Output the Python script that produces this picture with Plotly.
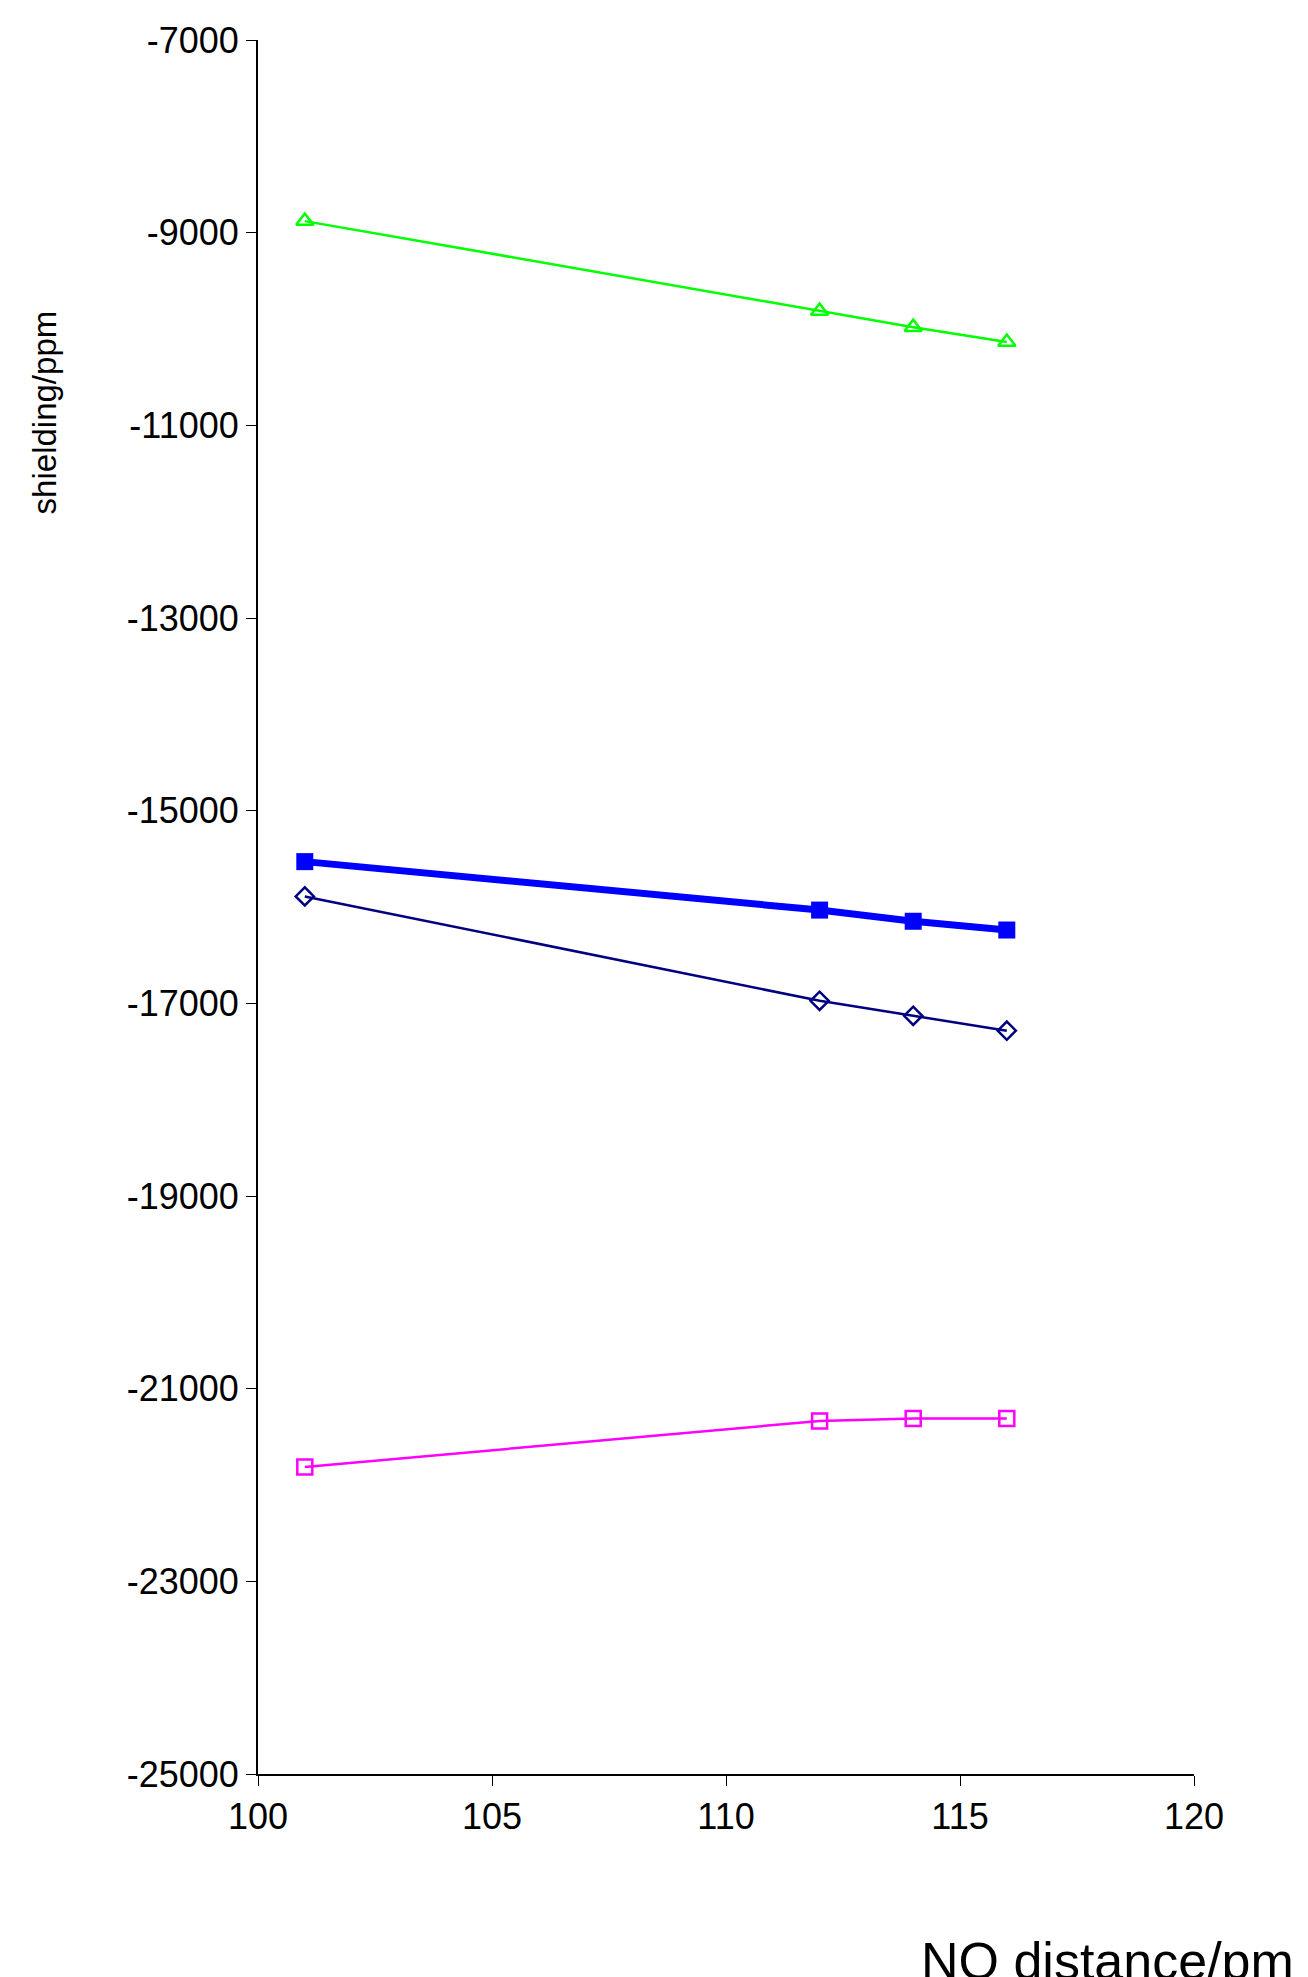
import plotly.graph_objects as go

x = [101, 112, 114, 116]
green = [-8880, -9813, -9981, -10135]
blue = [-15529, -16032, -16148, -16239]
navy = [-15890, -16974, -17129, -17284]
magenta = [-21813, -21335, -21310, -21310]
yticks = list(range(-25000, -6999, 2000))
yticklabels = [str(v) for v in yticks]

fig = go.Figure()
fig.add_trace(go.Scatter(x=x, y=green, mode="lines+markers", line=dict(color="#00ff00", width=2.5),
                         marker=dict(symbol="triangle-up-open", size=15, color="#00ff00", line=dict(width=2.5))))
fig.add_trace(go.Scatter(x=x, y=blue, mode="lines+markers", line=dict(color="#0000ff", width=7),
                         marker=dict(symbol="square", size=17, color="#0000ff")))
fig.add_trace(go.Scatter(x=x, y=navy, mode="lines+markers", line=dict(color="#000080", width=2.5),
                         marker=dict(symbol="diamond-open", size=14, color="#000080", line=dict(width=2.5))))
fig.add_trace(go.Scatter(x=x, y=magenta, mode="lines+markers", line=dict(color="#ff00ff", width=2.5),
                         marker=dict(symbol="square-open", size=15, color="#ff00ff", line=dict(width=2.5))))

fig.update_layout(
    width=1308, height=1977, showlegend=False,
    paper_bgcolor="white", plot_bgcolor="white",
    margin=dict(l=250, r=122, t=25, b=211),
    font=dict(family="Liberation Sans, Arial", color="black", size=36),
    xaxis=dict(range=[100, 120], dtick=5, showgrid=False, zeroline=False, showline=True,
               linecolor="black", linewidth=2, ticks="outside", ticklen=10, tickcolor="black"),
    yaxis=dict(range=[-25000, -7000], tickvals=yticks, ticktext=yticklabels, showgrid=False,
               zeroline=False, showline=True,
               linecolor="black", linewidth=2, ticks="outside", ticklen=10, tickcolor="black"),
    annotations=[
        dict(text="NO distance/pm", xref="paper", yref="paper", x=1.109, y=-0.09,
             xanchor="right", yanchor="top", showarrow=False, font=dict(size=52)),
        dict(text="shielding/ppm", xref="paper", yref="paper", x=-0.228, y=0.785,
             xanchor="center", yanchor="middle", textangle=-90, showarrow=False, font=dict(size=33)),
    ],
)
fig.write_html("out.html")
